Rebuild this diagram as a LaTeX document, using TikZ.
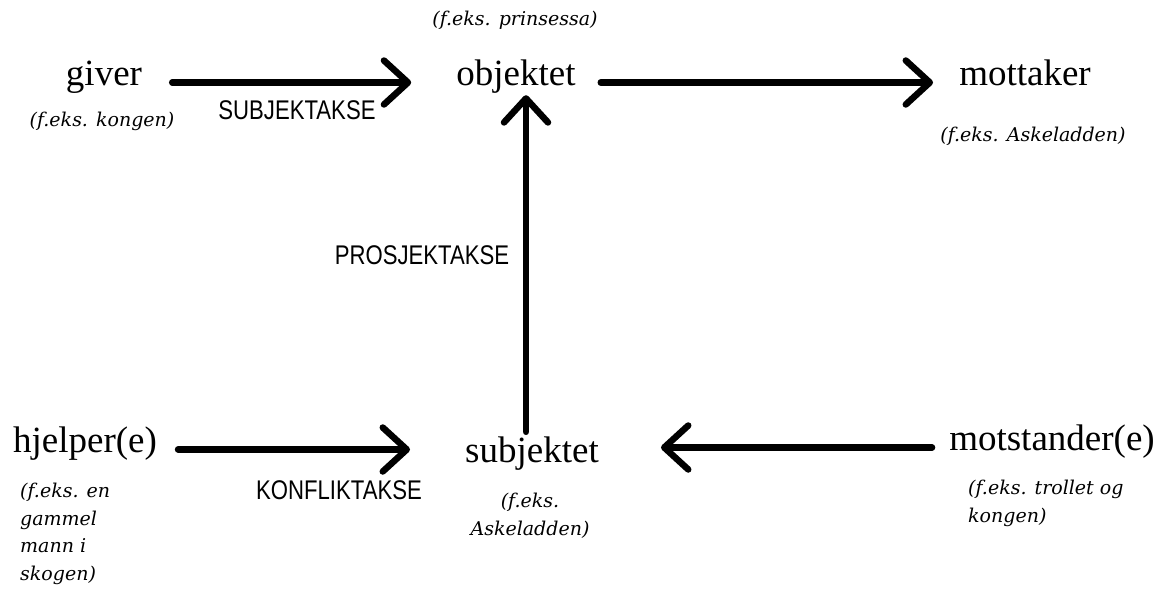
\documentclass[tikz,border=0pt]{standalone}
\usepackage{fontspec}
\setmainfont{Liberation Serif}
\newfontfamily\examplefont{DejaVu Serif}
\newfontfamily\axisfont[FakeStretch=0.82]{Liberation Sans}
\usetikzlibrary{arrows.meta}

\tikzset{
	actor/.style={anchor=base,inner sep=0pt,text height=0.7em,text depth=0.2em,font=\fontsize{37}{44}\selectfont},
	example/.style={inner sep=0pt,font=\examplefont\itshape\fontsize{19}{27.5}\selectfont},
	axislabel/.style={inner sep=0pt,font=\axisfont\fontsize{27}{30}\selectfont},
	axis/.style={line width=6.5pt,line cap=round,-{Straight Barb[length=24pt,width=44pt,round]}}
}

\begin{document}
\begin{tikzpicture}[x=1pt,y=-1pt]
	\useasboundingbox (0,0) rectangle (1173,605);
	\coordinate (GiverPos)      at (104,85);
	\coordinate (ObjektPos)     at (516,85);
	\coordinate (MottakerPos)   at (1025,85);
	\coordinate (HjelperPos)    at (85,452);
	\coordinate (SubjektPos)    at (532,462);
	\coordinate (MotstanderPos) at (1052,450);
	
	% top row
	\node[actor] (giver) at (GiverPos) {giver};
	\node[example] (giverex) at (102,121) {(f.eks. kongen)};
	\node[actor] (objektet) at (ObjektPos) {objektet};
	\node[example] (objektex) at (515,20) {(f.eks. prinsessa)};
	\node[actor] (mottaker) at (MottakerPos) {mottaker};
	\node[example] (mottakerex) at (1033,136) {(f.eks. Askeladden)};
	
	% bottom row
	\node[actor] (hjelper) at (HjelperPos) {hjelper(e)};
	\node[example,align=left,anchor=north west] (hjelperex) at (20,483) {(f.eks. en\\gammel\\mann i\\skogen)};
	\node[actor] (subjektet) at (SubjektPos) {subjektet};
	\node[example,align=center,anchor=north] (subjektex) at (530,493) {(f.eks.\\Askeladden)};
	\node[actor] (motstander) at (MotstanderPos) {motstander(e)};
	\node[example,align=left,anchor=north west] (motstanderex) at (968,480) {(f.eks. trollet og\\kongen)};
	
	% the three axes
	\draw[axis,shorten <=30pt,shorten >=45pt] (giver.east) -- (objektet.west);
	\draw[axis,shorten <=25pt,shorten >=26pt] (objektet.east) -- (mottaker.west);
	\draw[axis,shorten <=23pt,shorten >=8pt] ([xshift=-6pt]subjektet.north) -- ([xshift=-6pt]subjektet.north |- objektet.south);
	\draw[axis,shorten <=21pt,shorten >=55pt] (hjelper.east) -- (hjelper.east -| subjektet.west);
	\draw[axis,shorten <=17pt,shorten >=62pt] (motstander.west) -- (motstander.west -| subjektet.east);
	
	\node[axislabel] (subjektakse) at (297,110) {SUBJEKTAKSE};
	\node[axislabel] (prosjektakse) at (422,255) {PROSJEKTAKSE};
	\node[axislabel] (konfliktakse) at (339,490) {KONFLIKTAKSE};
\end{tikzpicture}
\end{document}
